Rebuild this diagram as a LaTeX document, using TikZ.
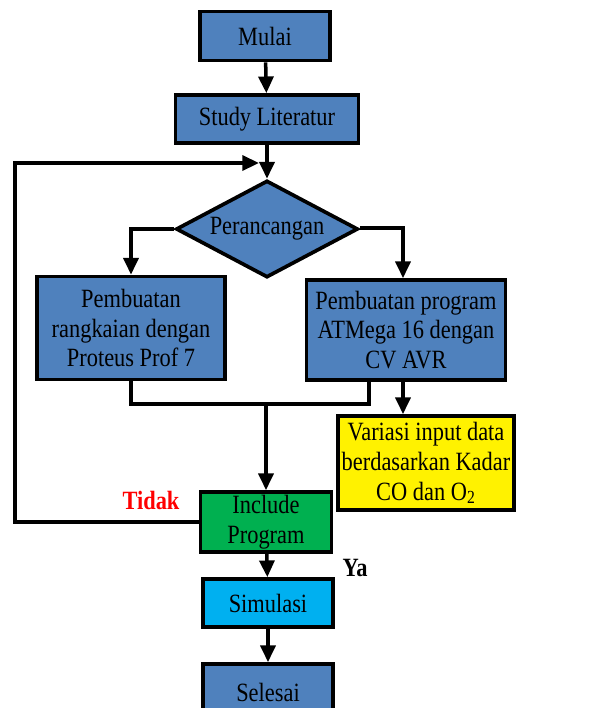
\documentclass[tikz,border=0pt]{standalone}
\usepackage{fontspec}
\setmainfont[FakeStretch=0.85]{Liberation Serif}
\usetikzlibrary{shapes.geometric,arrows.meta}
\definecolor{boxblue}{HTML}{4F81BD}
\definecolor{boxgreen}{HTML}{00B050}
\definecolor{boxcyan}{HTML}{00B0F0}
\begin{document}
\begin{tikzpicture}[
        x=0.02cm,y=-0.02cm,
        norm/.style={draw=black,rectangle,line width=2.1pt,fill=boxblue,align=center,inner sep=1pt,font=\fontsize{15}{17}\selectfont},
        dec/.style={norm,diamond,aspect=1.88,minimum width=3.64cm,minimum height=1.94cm,inner sep=0pt},
        arr/.style={line width=2pt,-{Triangle[length=9.5pt,width=8.5pt]}},
        ln/.style={line width=2pt}
      ]
      \useasboundingbox (0,0) rectangle (614,708);
      \clip (0,0) rectangle (614,708);
      \node[norm,minimum width=2.6cm,minimum height=0.98cm] (mulai) at (265,36) {Mulai};
      \node[norm,minimum width=3.66cm,minimum height=0.96cm] (study) at (267,119) {Study Literatur};
      \node[dec] (rancang) at (267,229) {Perancangan};
      \node[norm,minimum width=3.76cm,minimum height=2.06cm] (rangkai) at (131,328) {Pembuatan\\rangkaian dengan\\Proteus Prof 7};
      \node[norm,minimum width=3.98cm,minimum height=2.0cm] (program) at (406,330) {Pembuatan program\\ATMega 16 dengan\\CV AVR};
      \node[norm,fill=yellow,minimum width=3.52cm,minimum height=1.88cm] (variasi) at (426,463) {Variasi input data\\berdasarkan Kadar\\CO dan O\textsubscript{2}};
      \node[norm,fill=boxgreen,minimum width=2.62cm,minimum height=1.2cm] (include) at (266,522) {Include\\Program};
      \node[norm,fill=boxcyan,minimum width=2.6cm,minimum height=0.96cm] (simulasi) at (268,603) {Simulasi};
      \node[norm,minimum width=2.6cm,minimum height=1.12cm] (selesai) at (268,692) {Selesai};
      \node[font=\fontsize{15}{17}\selectfont\bfseries,text=red] (tidak) at (151,500) {Tidak};
      \node[font=\fontsize{15}{17}\selectfont\bfseries] (ya) at (355,568) {Ya};
      \coordinate (sudut) at (15,163);
      \coordinate (masuk) at (259,163);
      \coordinate (gabung) at (266,404);
      \draw[arr] (mulai) -- (study);
      \draw[arr] (study) -- (rancang);
      \draw[arr] (rancang.west) -| (rangkai.north);
      \draw[arr] ([yshift=0.02cm]rancang.east) -| ([xshift=-0.06cm]program.north);
      \draw[ln] (rangkai.south) |- (gabung);
      \draw[ln] ([xshift=-0.74cm]program.south) |- (gabung);
      \draw[arr] (gabung) -- (include);
      \draw[arr] ([xshift=-0.06cm]program.south) -- ([xshift=-0.06cm]program.south |- variasi.north);
      \draw[arr] (include.west) -| (sudut) -- (masuk);
      \draw[arr] (include) -- (simulasi);
      \draw[arr] (simulasi) -- (selesai);
    \end{tikzpicture}
\end{document}
